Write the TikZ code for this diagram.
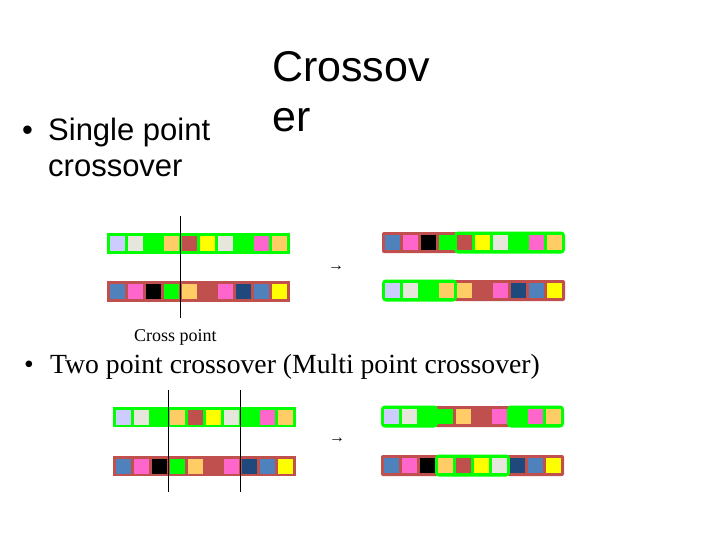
\documentclass[tikz,border=0pt]{standalone}
\usepackage{fontspec}
\setmainfont{Liberation Serif}
\newfontfamily\arialf{Liberation Sans}
\definecolor{gr}{HTML}{00FF00}
\definecolor{br}{HTML}{C0504D}
\definecolor{lv}{HTML}{CCCCFF}
\definecolor{bg}{HTML}{E6E6DC}
\definecolor{og}{HTML}{FFCC66}
\definecolor{ye}{HTML}{FFFF00}
\definecolor{pk}{HTML}{FF66CC}
\definecolor{bl}{HTML}{4F81BD}
\definecolor{nv}{HTML}{1F497D}
\definecolor{bk}{HTML}{000000}
% genes: x0, ytop, colour list
\newcommand{\generow}[3]{%
  \foreach \c [count=\i from 0] in {#3} {\fill[\c] ({#1+3+18*\i},{#2+3}) rectangle ++(15,15);}}
% segments: x0, ytop, first slot, last slot
\newcommand{\segbrown}[4]{%
  \fill[br, rounded corners=2pt] ({#1+18*#3},{#2}) rectangle ({#1+18*#4+21},{#2+21});}
\newcommand{\seggreen}[4]{%
  \filldraw[fill=gr, draw=gr, line width=2pt, rounded corners=3pt] ({#1+18*#3+1},{#2+0.5}) rectangle ({#1+18*#4+20},{#2+20.5});}
\tikzset{
  cutline/.style={black, line width=0.9pt},
  sanstext/.style={anchor=base west, inner sep=0pt, font=\arialf\fontsize{31}{36}\selectfont},
  titletext/.style={anchor=base west, inner sep=0pt, font=\arialf\fontsize{43}{50}\selectfont},
  serftext/.style={anchor=base west, inner sep=0pt, font=\fontsize{27.7}{32}\selectfont},
  arrowtext/.style={inner sep=0pt, font=\fontsize{16}{18}\selectfont}
}
\begin{document}
\begin{tikzpicture}[x=1pt, y=-1pt]
\useasboundingbox (0,0) rectangle (720,540);
% ---------------- texts
\node[sanstext] (b1) at (22,141) {•};
\node[sanstext] (t1a) at (48,141) {Single point};
\node[sanstext] (t1b) at (48,177) {crossover};
\node[titletext] (ti1) at (272,82) {Crossov};
\node[titletext] (ti2) at (272,132) {er};
\node[anchor=base west, inner sep=0pt, font=\fontsize{18}{20}\selectfont] (cp) at (134,341) {Cross point};
\node[serftext] (b2) at (24,373) {•};
\node[serftext] (t2) at (50,373) {Two point crossover (Multi point crossover)};
\node[arrowtext] (a1) at (336,268) {→};
\node[arrowtext] (a2) at (337,440) {→};
% ---------------- single point: parents
\fill[gr] (107,233) rectangle (290,254);
\generow{107}{233}{lv,bg,gr,og,br,ye,bg,gr,pk,og}
\fill[br] (107,281) rectangle (290,302);
\generow{107}{281}{bl,pk,bk,gr,og,br,pk,nv,bl,ye}
\coordinate (c1t) at (180.5,216);
\coordinate (c1b) at (180.5,318);
\draw[cutline] (c1t) -- (c1b);
% ---------------- single point: offspring
\segbrown{382}{232}{0}{3}
\seggreen{382}{232}{4}{9}
\generow{382}{232}{bl,pk,bk,gr,br,ye,bg,gr,pk,og}
\segbrown{382}{280}{4}{9}
\seggreen{382}{280}{0}{3}
\generow{382}{280}{lv,bg,gr,og,og,br,pk,nv,bl,ye}
% ---------------- two point: parents
\fill[gr] (113,407) rectangle (296,427);
\generow{113}{406.5}{lv,bg,gr,og,br,ye,bg,gr,pk,og}
\fill[br] (113,456) rectangle (296,476);
\generow{113}{455.5}{bl,pk,bk,gr,og,br,pk,nv,bl,ye}
\coordinate (c2t) at (168.5,390);
\coordinate (c2b) at (168.5,492);
\coordinate (c3t) at (240.5,390);
\coordinate (c3b) at (240.5,492);
\draw[cutline] (c2t) -- (c2b);
\draw[cutline] (c3t) -- (c3b);
% ---------------- two point: offspring
\segbrown{381}{406}{3}{6}
\seggreen{381}{406}{0}{2}
\seggreen{381}{406}{7}{9}
\generow{381}{406}{lv,bg,gr,gr,og,br,pk,gr,pk,og}
\segbrown{381}{455}{0}{2}
\segbrown{381}{455}{7}{9}
\seggreen{381}{455}{3}{6}
\generow{381}{455}{bl,pk,bk,og,br,ye,bg,nv,bl,ye}
\end{tikzpicture}
\end{document}
